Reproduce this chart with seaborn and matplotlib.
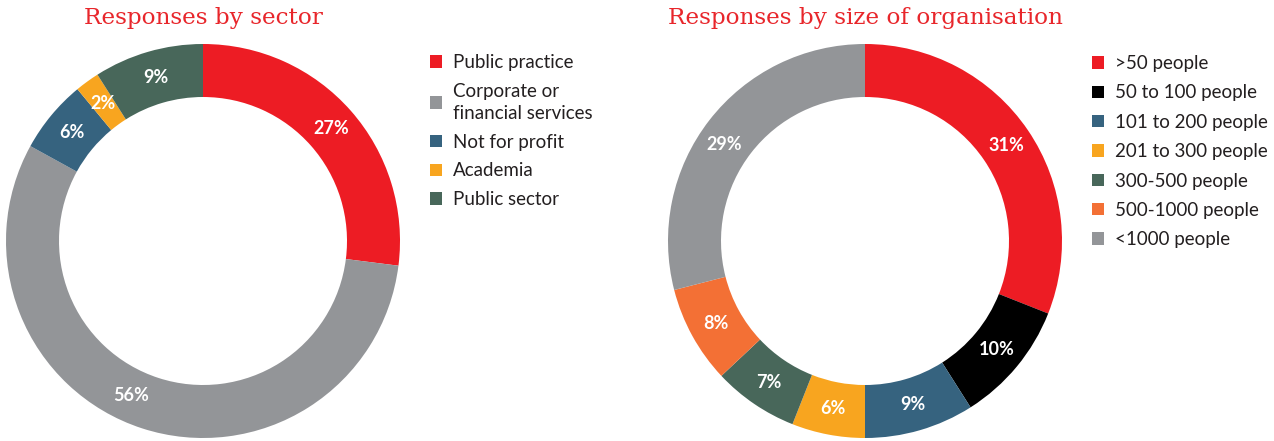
import numpy as np
import matplotlib
matplotlib.use("Agg")
import matplotlib.pyplot as plt
import seaborn as sns

# Survey response breakdowns
sector_labels = ["Public practice", "Corporate or\nfinancial services", "Not for profit",
                 "Academia", "Public sector"]
sector_values = [27, 56, 6, 2, 9]
sector_colors = ["#ED1C24", "#939598", "#36637F", "#F8A51F", "#48675A"]

size_labels = [">50 people", "50 to 100 people", "101 to 200 people", "201 to 300 people",
               "300-500 people", "500-1000 people", "<1000 people"]
size_values = [31, 10, 9, 6, 7, 8, 29]
size_colors = ["#ED1C24", "#000000", "#36637F", "#F8A51F", "#48675A", "#F37035", "#939598"]

sns.set_theme(style="white")
plt.rcParams["font.family"] = ["Lato", "DejaVu Sans"]

W, H = 1274, 441
fig = plt.figure(figsize=(W / 100, H / 100), dpi=100)

R_PX = 197
INNER_PX = 144
LABEL_R = (R_PX + INNER_PX) / 2 / R_PX


def donut(cx, cy, values, colors, labels, title, legend_xy, spacing, nudges):
    ax = fig.add_axes([(cx - R_PX) / W, (H - cy - R_PX) / H, 2 * R_PX / W, 2 * R_PX / H])
    palette = sns.color_palette(colors)
    wedges, _, autotexts = ax.pie(
        values, colors=palette, startangle=90, counterclock=False,
        autopct=lambda p: f"{p:.0f}%", pctdistance=LABEL_R,
        wedgeprops=dict(width=(R_PX - INNER_PX) / R_PX, linewidth=0),
        radius=1.0,
    )
    for i, (w, t) in enumerate(zip(wedges, autotexts)):
        # optional angular shift of the percentage label along the ring
        ang = np.deg2rad((w.theta1 + w.theta2) / 2 + nudges.get(i, 0))
        t.set_position((LABEL_R * np.cos(ang), LABEL_R * np.sin(ang)))
        t.set_color("white")
        t.set_fontsize(13)
        t.set_fontweight("bold")
    ax.set_xlim(-1, 1)
    ax.set_ylim(-1, 1)
    ax.set_aspect("equal")
    ax.axis("off")
    fig.text(cx / W, 1 - 18 / H, title, ha="center", va="center",
             color="#E8262B", fontsize=16.7, family=["DejaVu Serif"])
    leg = fig.legend(
        wedges, labels, loc="upper left",
        bbox_to_anchor=(legend_xy[0] / W, 1 - legend_xy[1] / H),
        frameon=False, fontsize=13.5, handlelength=0.64, handleheight=0.64,
        handletextpad=0.6, labelspacing=spacing, borderpad=0, borderaxespad=0,
    )
    for t in leg.get_texts():
        t.set_color("#231F20")
        t.set_linespacing(1.35)
    return ax


donut(203, 241, sector_values, sector_colors, sector_labels,
      "Responses by sector", (430, 54), 0.63, {1: -7})
donut(865, 241, size_values, size_colors, size_labels,
      "Responses by size of organisation", (1092, 55), 0.66, {6: 3.5})

fig.savefig("out.png", dpi=100, facecolor="white")
